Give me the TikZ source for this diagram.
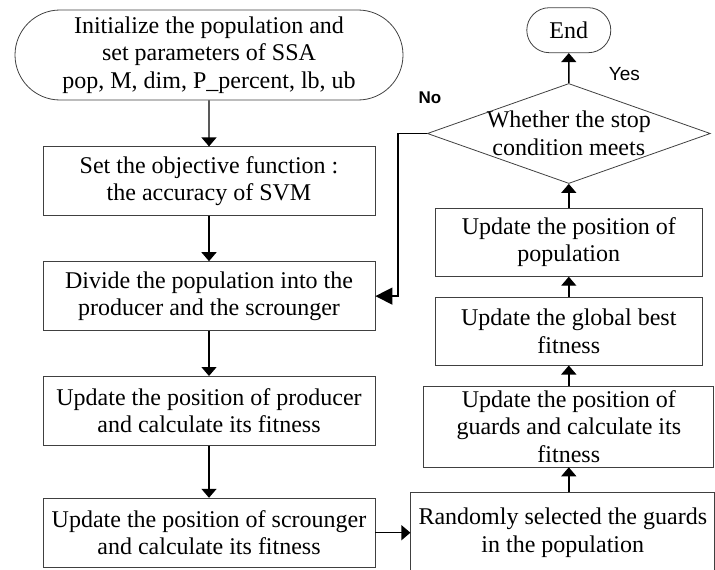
\documentclass[tikz,border=0pt]{standalone}
\usepackage{fontspec}
\setmainfont{Liberation Serif}
\setsansfont{Liberation Sans}
\usetikzlibrary{arrows.meta,positioning,shapes.geometric,shapes.misc}
\definecolor{boxline}{HTML}{404040}

\begin{document}
\begin{tikzpicture}[node distance=45pt,
    box/.style={draw=boxline,line width=0.8pt,inner sep=0pt,align=center,
                font=\fontsize{24}{27.5}\selectfont},
    flow/.style={line width=1.4pt,-{Triangle[width=15pt,length=9pt]}},
    lab/.style={font=\sffamily\fontsize{19}{20}\selectfont}]
  \useasboundingbox (0,0) rectangle (715pt,-570pt);
  % left column, top to bottom
  \node[box,rounded rectangle,minimum width=388pt,minimum height=90pt] (init)
    at (209pt,-55pt)
    {Initialize the population and\\ set parameters of SSA\\
     pop, M, dim, P\_percent, lb, ub};
  \node[box,minimum width=332pt,minimum height=69pt,below=46pt of init] (obj)
    {Set the objective function :\\ the accuracy of SVM};
  \node[box,minimum width=332pt,minimum height=69pt,below=of obj] (divide)
    {Divide the population into the\\ producer and the scrounger};
  \node[box,minimum width=332pt,minimum height=69pt,below=of divide] (prod)
    {Update the position of producer\\ and calculate its fitness};
  \node[box,minimum width=332pt,minimum height=69pt,below=52pt of prod] (scro)
    {Update the position of scrounger\\ and calculate its fitness};
  % right column, bottom to top
  \node[box,minimum width=304pt,minimum height=80pt,right=35pt of scro] (rand)
    {Randomly selected the guards\\ in the population};
  \node[box,minimum width=290pt,minimum height=81pt,above=25pt of rand,
        xshift=6pt] (guard)
    {Update the position of\\ guards and calculate its\\ fitness};
  \node[box,minimum width=267pt,minimum height=68pt,above=20pt of guard] (best)
    {Update the global best\\ fitness};
  \node[box,minimum width=267pt,minimum height=68pt,above=20pt of best] (pos)
    {Update the position of\\ population};
  \node[box,diamond,aspect=2.83,inner sep=-4pt,minimum width=283pt,
        minimum height=100pt,above=24pt of pos] (stop)
    {Whether the stop\\ condition meets};
  \node[box,rounded rectangle,minimum width=84pt,minimum height=45pt,
        above=30pt of stop] (end) {End};
  \node[lab,font=\sffamily\bfseries\fontsize{17}{20}\selectfont]
    (no) at ([xshift=3pt,yshift=36pt]stop.west) {No};

  \draw[flow] (init) -- (obj);
  \draw[flow] (obj) -- (divide);
  \draw[flow] (divide) -- (prod);
  \draw[flow] (prod) -- (scro);
  \draw[flow] (scro) -- (rand);
  \draw[flow] (rand.north -| guard.south) -- (guard.south);
  \draw[flow] (guard) -- (best);
  \draw[flow] (best) -- (pos);
  \draw[flow] (pos) -- (stop);
  \draw[flow] (stop) -- node[lab,pos=0.3,right=36pt] (yes) {Yes} (end);
  \draw[line width=1.4pt,-{Triangle[width=17pt,length=17pt]}]
    (stop.west) -- ++(-29pt,0) |- (divide.east);
\end{tikzpicture}
\end{document}
